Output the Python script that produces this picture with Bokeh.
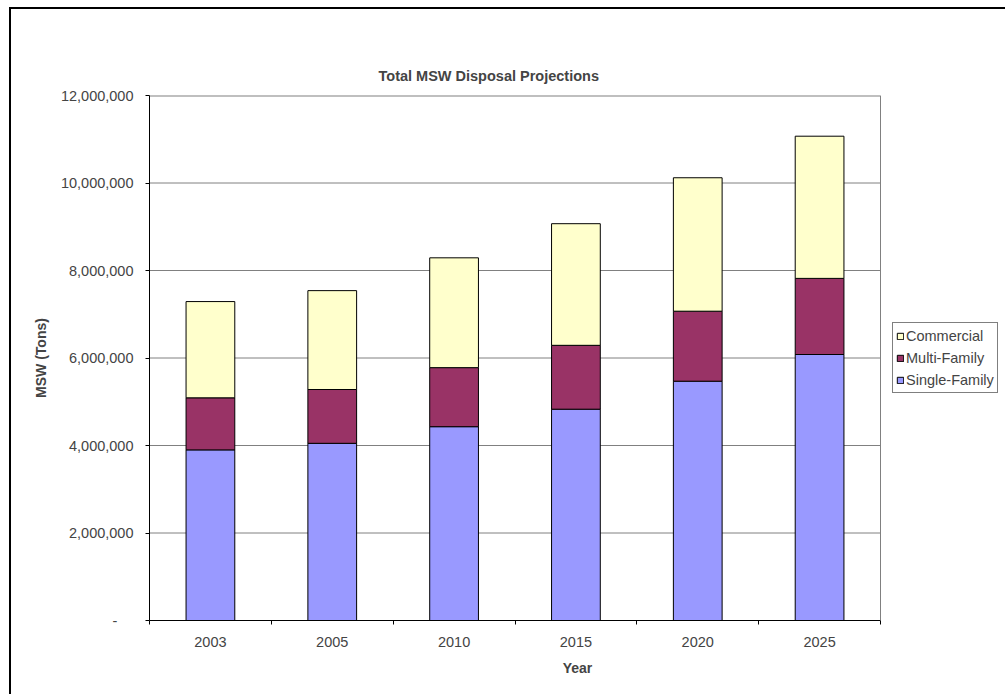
from bokeh.plotting import figure
from bokeh.models import (ColumnDataSource, FixedTicker, Legend, LegendItem, Span)
from bokeh.embed import file_html
from bokeh.resources import INLINE

# ---- data ----
years = ["2003", "2005", "2010", "2015", "2020", "2025"]
single_family = [3.90e6, 4.05e6, 4.43e6, 4.83e6, 5.47e6, 6.08e6]
multi_family = [1.19e6, 1.23e6, 1.35e6, 1.46e6, 1.60e6, 1.74e6]
commercial = [2.20e6, 2.26e6, 2.51e6, 2.78e6, 3.05e6, 3.25e6]
y_ticks = [0, 2e6, 4e6, 6e6, 8e6, 10e6, 12e6]
series_names = ["Single-Family", "Multi-Family", "Commercial"]
series_colors = ["#9999FF", "#993366", "#FFFFCC"]

FONT = "Liberation Sans"
FS = "14.5px"

n = len(years)
x_pos = [i + 0.5 for i in range(n)]
boundaries = list(range(n + 1))

source = ColumnDataSource(dict(x=x_pos, single=single_family,
                               multi=multi_family, comm=commercial))

W, H = 1005, 694
FL, FT, PW, FH = 149, 95, 731, 525      # plot-area left/top/width/height
FW = W - FL                              # frame also holds the legend area
x_end = n * FW / PW

p = figure(frame_width=FW, frame_height=FH,
           x_range=(0, x_end), y_range=(0, max(y_ticks)),
           output_backend="svg", toolbar_location=None,
           min_border_left=FL, min_border_right=0,
           min_border_top=FT, min_border_bottom=H - FT - FH)

p.background_fill_color = "white"
p.border_fill_alpha = 0
p.outline_line_color = None

# outer chart border (top and left edges visible, rest cropped as in reference)
p.styles = {
    "background-color": "white",
    "background-image": "linear-gradient(#000,#000), linear-gradient(#000,#000)",
    "background-size": "2px 100%, 100% 2px",
    "background-position": "9px 7px, 9px 7px",
    "background-repeat": "no-repeat",
}

# horizontal gridlines limited to the plot area
p.xgrid.visible = False
p.ygrid.visible = False
grid_ticks = y_ticks[1:]
grid_src = ColumnDataSource(dict(
    y=grid_ticks,
    x0=[0] * len(grid_ticks),
    x1=[n] * len(grid_ticks),
    lw=[2 if t == max(y_ticks) else 1 for t in grid_ticks]))
p.segment(x0="x0", x1="x1", y0="y", y1="y", line_color="#808080",
          line_width="lw", source=grid_src, level="underlay")
p.add_layout(Span(location=n, dimension="height", line_color="#808080",
                  line_width=1))

renderers = p.vbar_stack(["single", "multi", "comm"], x="x", width=0.4,
                         color=series_colors, line_color="black",
                         line_width=1, source=source)

# title
p.title.text = "Total MSW Disposal Projections"
p.title.align = "left"
p.title.offset = 229
p.title.text_font = FONT
p.title.text_font_size = FS
p.title.text_font_style = "bold"
p.title.standoff = 24

# y axis
ya = p.yaxis[0]
ya.ticker = FixedTicker(ticks=y_ticks)
ya.major_label_overrides = {t: ("-" + "\u00a0" * 4 if t == 0 else f"{int(t):,}")
                            for t in y_ticks}
ya.axis_label = "MSW (Tons)"
ya.axis_label_text_font = FONT
ya.axis_label_text_font_size = "14px"
ya.axis_label_text_font_style = "bold"
ya.axis_label_standoff = 9
ya.major_label_text_font = FONT
ya.major_label_text_font_size = FS
ya.major_label_standoff = 12
ya.major_tick_out = 4
ya.major_tick_in = 0
ya.minor_tick_out = 0
ya.minor_tick_in = 0
ya.axis_line_color = "black"
ya.major_tick_line_color = "black"

# x axis
xa = p.xaxis[0]
xa.bounds = (0, n)
xa.ticker = FixedTicker(ticks=x_pos, minor_ticks=boundaries)
xa.major_label_overrides = {x: y for x, y in zip(x_pos, years)}
xa.axis_label = "Year"
xa.axis_label_text_font = FONT
xa.axis_label_text_font_size = "14px"
xa.axis_label_text_font_style = "bold"
xa.axis_label_standoff = 10
xa.major_label_text_font = FONT
xa.major_label_text_font_size = FS
xa.major_label_standoff = 12
xa.major_tick_out = 0
xa.major_tick_in = 0
xa.minor_tick_out = 4
xa.minor_tick_in = 0
xa.minor_tick_line_color = "black"
xa.axis_line_color = "black"

# legend (Commercial on top), sitting right of the plot area
items = [LegendItem(label=series_names[i], renderers=[renderers[i]])
         for i in (2, 1, 0)]
legend = Legend(items=items, location=(743, 227))
legend.label_text_font = FONT
legend.label_text_font_size = FS
legend.glyph_width = 8
legend.glyph_height = 8
legend.label_standoff = 2
legend.label_height = 19
legend.spacing = 3
legend.padding = 3
legend.margin = 0
legend.border_line_color = "black"
legend.border_line_width = 1
legend.background_fill_color = "white"
legend.background_fill_alpha = 1
p.add_layout(legend, "center")

open("out.html", "w").write(file_html(p, INLINE))
